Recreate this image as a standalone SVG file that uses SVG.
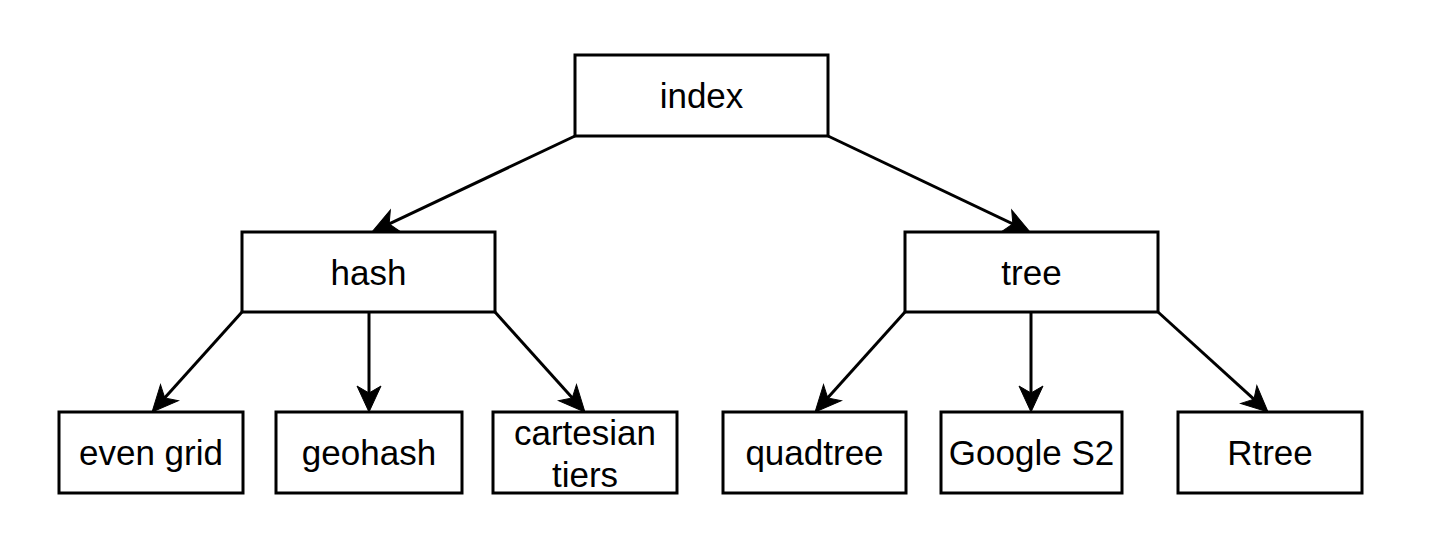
<svg xmlns="http://www.w3.org/2000/svg" width="1446" height="556" viewBox="0 0 1446 556">
<defs>
<style>
.box{fill:#ffffff;stroke:#000000;stroke-width:3}
.lbl{font-family:"Liberation Sans",Arial,Helvetica,sans-serif;font-size:35px;fill:#000000;text-anchor:middle}
.edge{fill:none;stroke:#000000;stroke-width:3;marker-end:url(#arr)}
</style>
<marker id="arr" markerUnits="userSpaceOnUse" markerWidth="40" markerHeight="40" viewBox="-20 -15 40 30" refX="0" refY="0" orient="auto" overflow="visible">
<path d="M8,0 L-18,-12 L-11,0 L-18,12 Z" fill="#000000" stroke="#000000" stroke-width="1" stroke-linejoin="miter"/>
</marker>
</defs>
<rect width="1446" height="556" fill="#ffffff"/>
<g id="connectors">
<path class="edge" d="M575,136 L379.2,228.6"/>
<path class="edge" d="M828,136 L1022.8,228.6"/>
<path class="edge" d="M242,312 L157.4,406.1"/>
<path class="edge" d="M369,312 L369,404"/>
<path class="edge" d="M495,312 L579.6,406.1"/>
<path class="edge" d="M905,312 L820.4,406.1"/>
<path class="edge" d="M1031,312 L1031,404"/>
<path class="edge" d="M1158,312 L1262.1,406.6"/>
</g>
<g id="index"><rect class="box" x="575" y="55" width="253" height="81"/><text class="lbl" x="701.5" y="108">index</text></g>
<g id="hash"><rect class="box" x="242" y="232" width="253" height="80"/><text class="lbl" x="368.5" y="285">hash</text></g>
<g id="tree"><rect class="box" x="905" y="232" width="253" height="80"/><text class="lbl" x="1031.5" y="285">tree</text></g>
<g id="even-grid"><rect class="box" x="59" y="412" width="184" height="81"/><text class="lbl" x="151" y="465">even grid</text></g>
<g id="geohash"><rect class="box" x="276" y="412" width="186" height="81"/><text class="lbl" x="369" y="465">geohash</text></g>
<g id="cartesian-tiers"><rect class="box" x="493" y="412" width="184" height="81"/><text class="lbl" x="585" y="445">cartesian</text><text class="lbl" x="585" y="487">tiers</text></g>
<g id="quadtree"><rect class="box" x="723" y="412" width="183" height="81"/><text class="lbl" x="814.5" y="465">quadtree</text></g>
<g id="google-s2"><rect class="box" x="941" y="412" width="181" height="81"/><text class="lbl" x="1031.5" y="465">Google S2</text></g>
<g id="rtree"><rect class="box" x="1178" y="412" width="184" height="81"/><text class="lbl" x="1270" y="465">Rtree</text></g>
</svg>
